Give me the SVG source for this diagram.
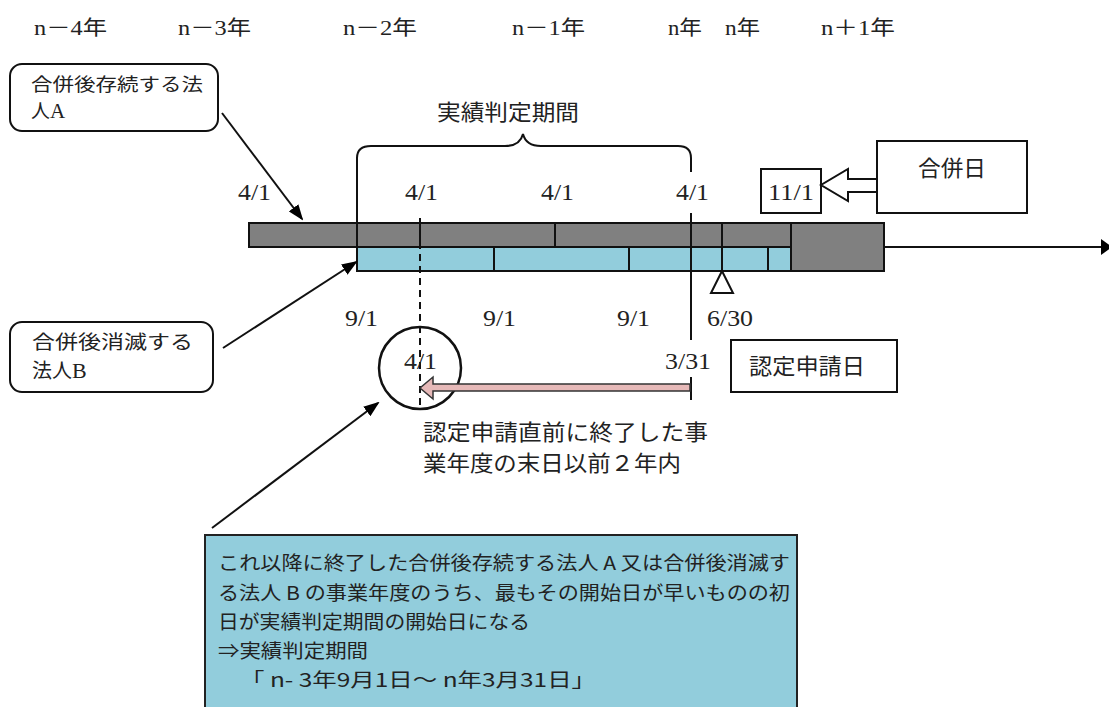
<svg xmlns="http://www.w3.org/2000/svg" width="1109" height="707" viewBox="0 0 1109 707">
<style>
.t{font-family:"Liberation Serif","Noto Sans CJK JP",serif;fill:#222}
.j{font-family:"Noto Sans CJK JP","Liberation Sans",sans-serif;fill:#222}
.yr{font-size:20px}
.dt{font-size:23px}
.box{fill:#fff;stroke:#111;stroke-width:2}
.ln{stroke:#111;stroke-width:2;fill:none}
.bar{stroke:#111;stroke-width:2}
</style>
<defs>
<marker id="ah" markerWidth="16" markerHeight="12" refX="14" refY="6" orient="auto" markerUnits="userSpaceOnUse">
<path d="M0,0 L16,6 L0,12 Z" fill="#000"/>
</marker>
</defs>
<rect width="1109" height="707" fill="#fff"/>

<g id="years" class="t yr">
<text x="34" y="35" textLength="73" lengthAdjust="spacingAndGlyphs">n－4年</text>
<text x="178" y="35" textLength="73" lengthAdjust="spacingAndGlyphs">n－3年</text>
<text x="343" y="35" textLength="74" lengthAdjust="spacingAndGlyphs">n－2年</text>
<text x="512" y="35" textLength="73" lengthAdjust="spacingAndGlyphs">n－1年</text>
<text x="668" y="35" textLength="34" lengthAdjust="spacingAndGlyphs">n年</text>
<text x="725" y="35" textLength="35" lengthAdjust="spacingAndGlyphs">n年</text>
<text x="821" y="35" textLength="74" lengthAdjust="spacingAndGlyphs">n＋1年</text>
</g>

<g id="timeline">
<rect x="249" y="223" width="542" height="24" fill="#808080" class="bar"/>
<rect x="357" y="247" width="434" height="24" fill="#92CDDC" class="bar"/>
<rect x="791" y="223" width="93" height="48" fill="#808080" class="bar"/>
<path class="ln" d="M357,223V271 M420,223V247 M555,223V247 M722,223V271 M494,247V271 M629,247V271 M768,247V271"/>
<path class="ln" d="M691,213V340 M691,377V400"/>
<path class="ln" stroke-dasharray="7,5" d="M420,218V408"/>
<polygon points="722,271 711,293 733,293" fill="#fff" stroke="#111" stroke-width="2"/>
</g>

<g id="brace">
<path class="ln" d="M357,223 L357,158 Q357,146 371,146 L505,146 Q520,146 523,134 Q526,146 541,146 L678,146 Q691,146 691,158 L691,172"/>
<text class="j" x="437" y="120" font-size="22" textLength="142" lengthAdjust="spacingAndGlyphs">実績判定期間</text>
</g>

<g id="dates" class="t dt">
<text x="238" y="200" textLength="33" lengthAdjust="spacingAndGlyphs">4/1</text>
<text x="405" y="200" textLength="33" lengthAdjust="spacingAndGlyphs">4/1</text>
<text x="541" y="200" textLength="33" lengthAdjust="spacingAndGlyphs">4/1</text>
<text x="676" y="200" textLength="33" lengthAdjust="spacingAndGlyphs">4/1</text>
<text x="345" y="326" textLength="33" lengthAdjust="spacingAndGlyphs">9/1</text>
<text x="483" y="326" textLength="33" lengthAdjust="spacingAndGlyphs">9/1</text>
<text x="617" y="326" textLength="33" lengthAdjust="spacingAndGlyphs">9/1</text>
<text x="707" y="326" textLength="46" lengthAdjust="spacingAndGlyphs">6/30</text>
<text x="665" y="369" textLength="46" lengthAdjust="spacingAndGlyphs">3/31</text>
</g>

<g id="boxA">
<rect class="box" x="10" y="64" width="208" height="67" rx="12"/>
<text class="j" x="31" y="91" font-size="18" textLength="172" lengthAdjust="spacingAndGlyphs">合併後存続する法</text>
<text class="j" x="31" y="118" font-size="19">人<tspan class="t" font-size="21">A</tspan></text>
</g>

<g id="boxB">
<rect class="box" x="10" y="322" width="203" height="70" rx="12"/>
<text class="j" x="32" y="349" font-size="19" textLength="161" lengthAdjust="spacingAndGlyphs">合併後消滅する</text>
<text class="j" x="32" y="378" font-size="20">法人<tspan class="t" font-size="22">B</tspan></text>
</g>

<g id="gappeibi">
<rect class="box" x="877" y="141" width="150" height="72"/>
<text class="j" x="918" y="176" font-size="22" textLength="68" lengthAdjust="spacingAndGlyphs">合併日</text>
</g>

<g id="date111">
<rect class="box" x="761" y="169" width="60" height="44"/>
<text class="t dt" x="768" y="200" textLength="46" lengthAdjust="spacingAndGlyphs">11/1</text>
</g>

<g id="ninteibi">
<rect class="box" x="731" y="340" width="166" height="52"/>
<text class="j" x="749" y="374" font-size="22" textLength="116" lengthAdjust="spacingAndGlyphs">認定申請日</text>
</g>

<g id="circle">
<circle cx="420" cy="368" r="41" fill="none" stroke="#111" stroke-width="2.5"/>
<text class="t dt" x="404" y="369" textLength="33" lengthAdjust="spacingAndGlyphs">4/1</text>
</g>

<g id="period">
<text class="j" x="423" y="440" font-size="22" textLength="285" lengthAdjust="spacingAndGlyphs">認定申請直前に終了した事</text>
<text class="j" x="423" y="471" font-size="22" textLength="258" lengthAdjust="spacingAndGlyphs">業年度の末日以前２年内</text>
</g>

<g id="note">
<rect x="205" y="535" width="592" height="190" fill="#92CDDC" stroke="#222" stroke-width="2"/>
<g class="j" font-size="19">
<text x="218" y="570" textLength="572" lengthAdjust="spacingAndGlyphs">これ以降に終了した合併後存続する法人 A 又は合併後消滅す</text>
<text x="218" y="600" textLength="572" lengthAdjust="spacingAndGlyphs">る法人 B の事業年度のうち、最もその開始日が早いものの初</text>
<text x="218" y="629" textLength="312" lengthAdjust="spacingAndGlyphs">日が実績判定期間の開始日になる</text>
<text x="218" y="658" textLength="150" lengthAdjust="spacingAndGlyphs">⇒実績判定期間</text>
<text x="240" y="687" textLength="356" lengthAdjust="spacingAndGlyphs">「 n- 3年9月1日～ n年3月31日」</text>
</g>
</g>

<g id="connectors">
<line class="ln" x1="222" y1="113" x2="302" y2="219" marker-end="url(#ah)"/>
<line class="ln" x1="223" y1="348" x2="356" y2="262" marker-end="url(#ah)"/>
<line class="ln" x1="212" y1="528" x2="378" y2="403" marker-end="url(#ah)"/>
<line class="ln" x1="884" y1="247" x2="1102" y2="247"/>
<polygon points="1101,239 1112,247 1101,255" fill="#000"/>
<polygon points="877,179 848,179 848,169 821,185 848,201 848,192 877,192" fill="#fff" stroke="#111" stroke-width="2"/>
<polygon points="690,384 433,384 433,377 420,388 433,399 433,391 690,391" fill="#E6B9B8" stroke="#333" stroke-width="1.5"/>
</g>
</svg>
